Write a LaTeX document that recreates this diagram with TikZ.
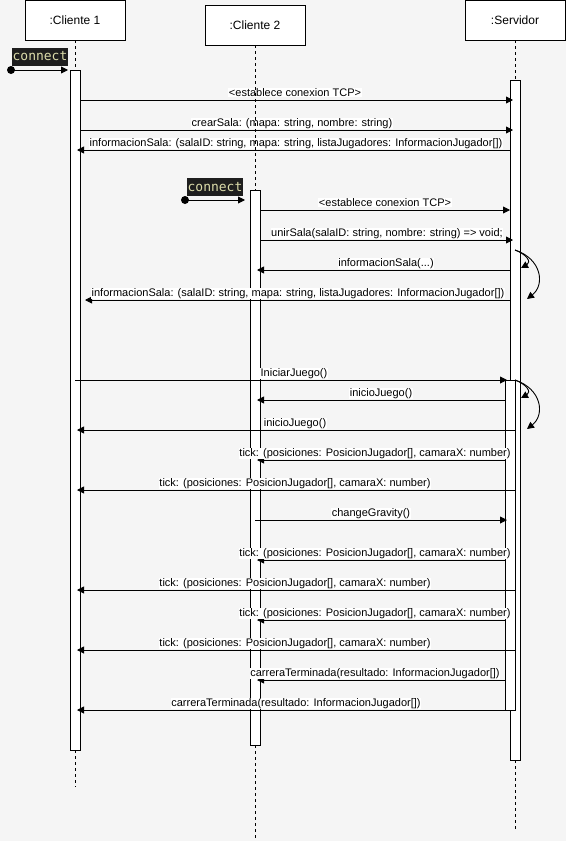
\documentclass[tikz,border=0pt]{standalone}
\usepackage{fontspec}
\setmainfont{Liberation Sans}
\newfontfamily\codefont{DejaVu Sans Mono}
\usetikzlibrary{arrows.meta}
\definecolor{bgc}{HTML}{F5F5F5}
\definecolor{codebg}{HTML}{1E1E1E}
\definecolor{codefg}{HTML}{DCDCAA}
\tikzset{
  msg/.style={-{Triangle[length=7pt,width=7pt]}, line width=0.9pt},
  lbl/.style={anchor=base, fill=white, inner sep=0.5pt, font=\fontsize{11}{13}\selectfont},
  head/.style={draw, fill=white, line width=0.9pt, minimum width=100pt, minimum height=40pt, inner sep=0pt, font=\fontsize{12}{14}\selectfont},
  act/.style={draw, fill=white, line width=0.9pt, minimum width=10pt, inner sep=0pt},
  life/.style={dashed, dash pattern=on 3pt off 3pt, line width=0.9pt},
  code/.style={fill=codebg, text=codefg, inner xsep=0.5pt, inner ysep=0pt, minimum height=18pt, font=\codefont\fontsize{13}{15}\selectfont},
  dot/.style={circle, fill=black, inner sep=0pt, minimum size=8pt}
}
\newcommand\seqmsg[6]{%
  \coordinate (#1a) at (#2,#4);
  \coordinate (#1b) at (#3,#4);
  \draw[msg] (#1a) -- (#1b);
  \node[lbl] (#1l) at (#5,#4-4) {#6};
}
\begin{document}
\begin{tikzpicture}[x=1pt, y=-1pt]
\fill[bgc] (0,0) rectangle (566,841);
\useasboundingbox (0,0) rectangle (566,841);

% headers
\node[head] (h1) at (75,20) {:Cliente 1};
\node[head] (h2) at (255,25) {:Cliente 2};
\node[head] (h3) at (515,20) {:Servidor};

% activations
\node[act, minimum height=680pt] (a1) at (75,410) {};
\node[act, minimum height=555pt] (a2) at (255,467.5) {};
\node[act, minimum height=680pt] (a3) at (515,420) {};
\node[act, minimum height=330pt] (a4) at (510,545) {};

% connect Cliente 1
\node[code] (k1) at (40,56.5) {connect};
\node[dot] (d1) at (11,70) {};
\coordinate (t1) at (68,70);
\draw[msg] (d1.center) -- (t1);

% connect Cliente 2
\node[code] (k2) at (215,187) {connect};
\node[dot] (d2) at (185,200) {};
\coordinate (t2) at (245,200);
\draw[msg] (d2.center) -- (t2);

% messages
\seqmsg{m1}{80}{513}{100}{295}{<establece conexion TCP>}
\seqmsg{m2}{80}{513}{130}{292}{crearSala: (mapa: string, nombre: string)}
\seqmsg{m3}{510}{77}{150}{296}{informacionSala: (salaID: string, mapa: string, listaJugadores: InformacionJugador[])}
\seqmsg{m5}{260}{510}{210}{385}{<establece conexion TCP>}
\seqmsg{m6}{260}{513}{240}{387}{unirSala(salaID: string, nombre: string) => void;}
\seqmsg{m7}{510}{257}{270}{386}{informacionSala(...)}
\seqmsg{m8}{510}{85}{300}{298}{informacionSala: (salaID: string, mapa: string, listaJugadores: InformacionJugador[])}
\seqmsg{m9}{75}{507}{380}{294}{IniciarJuego()}
\seqmsg{m10}{505}{257}{400}{381}{inicioJuego()}
\seqmsg{m11}{515}{77}{430}{295}{inicioJuego()}
\seqmsg{m12}{505}{257}{460}{375}{tick: (posiciones: PosicionJugador[], camaraX: number)}
\seqmsg{m13}{515}{77}{490}{295}{tick: (posiciones: PosicionJugador[], camaraX: number)}
\seqmsg{m14}{255}{507}{520}{371}{changeGravity()}
\seqmsg{m15}{505}{257}{560}{375}{tick: (posiciones: PosicionJugador[], camaraX: number)}
\seqmsg{m16}{515}{77}{590}{295}{tick: (posiciones: PosicionJugador[], camaraX: number)}
\seqmsg{m17}{505}{257}{620}{375}{tick: (posiciones: PosicionJugador[], camaraX: number)}
\seqmsg{m18}{515}{77}{650}{295}{tick: (posiciones: PosicionJugador[], camaraX: number)}
\seqmsg{m19}{505}{257}{680}{375}{carreraTerminada(resultado: InformacionJugador[])}
\seqmsg{m20}{515}{77}{710}{296}{carreraTerminada(resultado: InformacionJugador[])}

% self curves on Servidor
\coordinate (s1) at (515,250);
\coordinate (s1a) at (521,268);
\coordinate (s1b) at (527,299);
\draw[msg] (s1) .. controls (526,254) and (532,262) .. (s1a);
\draw[msg] (s1) .. controls (542,259) and (545,285) .. (s1b);
\coordinate (s2) at (515,380);
\coordinate (s2a) at (521,398);
\coordinate (s2b) at (527,429);
\draw[msg] (s2) .. controls (526,384) and (532,392) .. (s2a);
\draw[msg] (s2) .. controls (542,389) and (545,415) .. (s2b);

% lifelines
\coordinate (e1) at (75,787);
\coordinate (e2) at (255,841);
\coordinate (e3) at (515,830);
\draw[life] (h1.south) -- (a1.north);
\draw[life] (a1.south) -- (e1);
\draw[life] (h2.south) -- (a2.north);
\draw[life] (a2.south) -- (e2);
\draw[life] (h3.south) -- (a3.north);
\draw[life] (a3.south) -- (e3);
\end{tikzpicture}
\end{document}
